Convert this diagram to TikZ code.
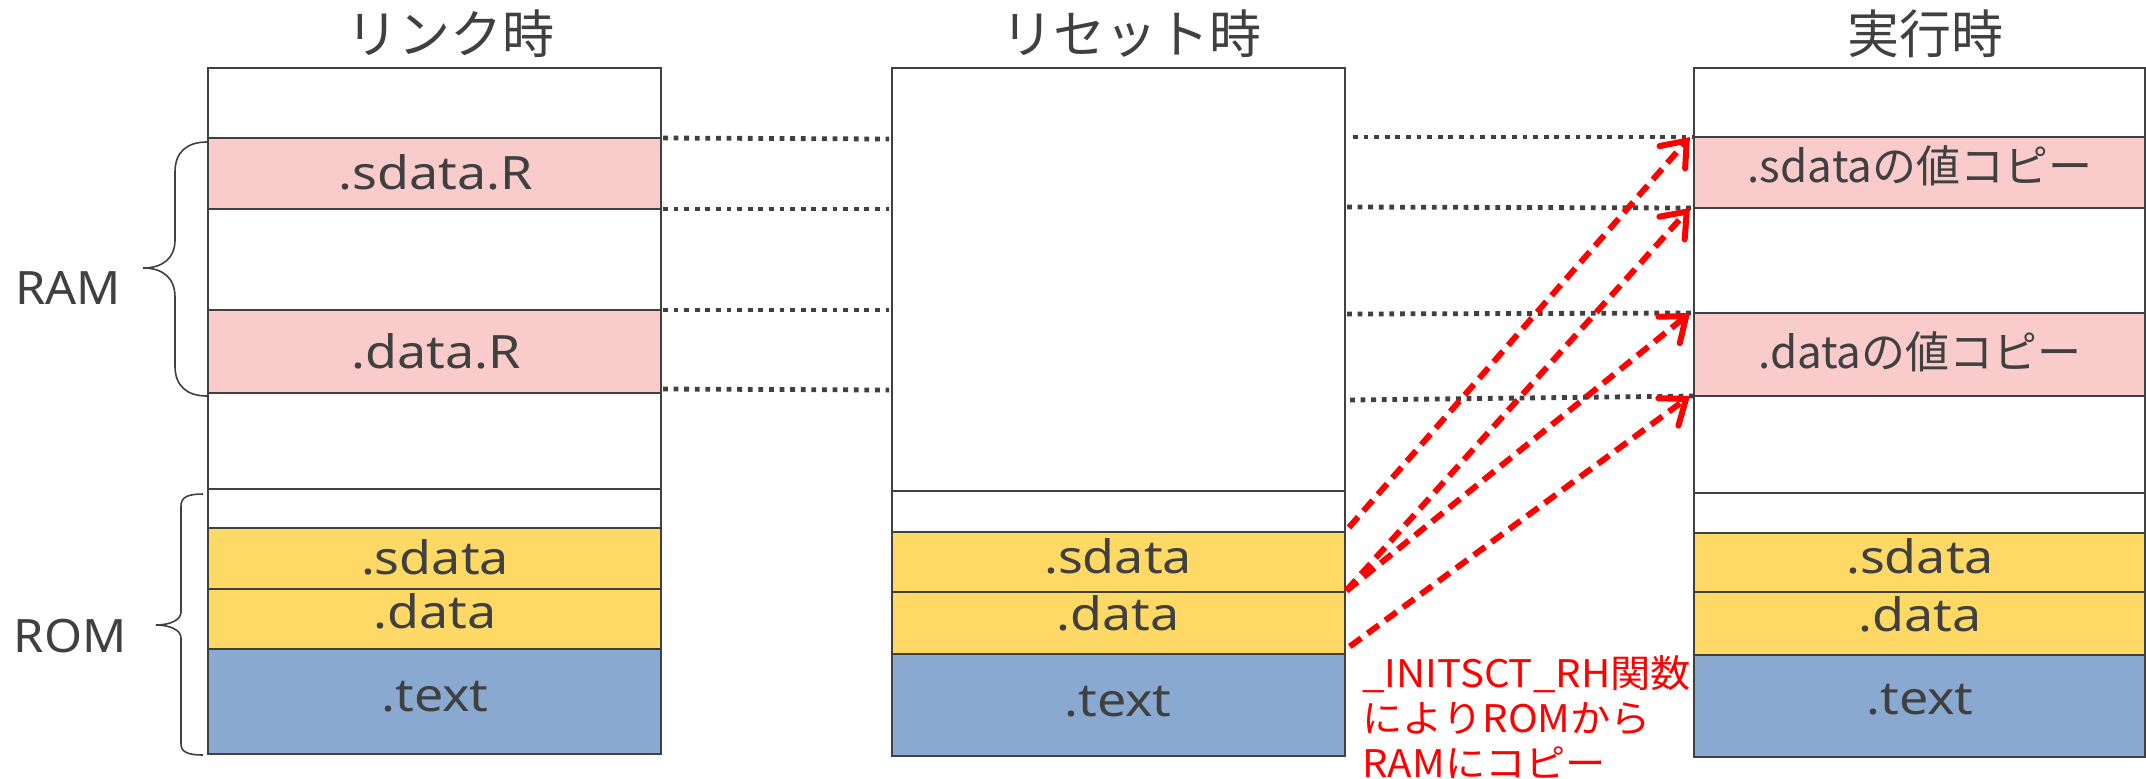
\documentclass[tikz,border=0pt]{standalone}
\usepackage{fontspec}
\setmainfont{Noto Sans CJK JP}
\newfontfamily\latfont[FakeStretch=1.13]{Noto Sans}
\newfontfamily\sidefont[FakeStretch=1.06]{Noto Sans}
\newfontfamily\redfont[FakeStretch=1.06]{Noto Sans CJK JP}
\usetikzlibrary{arrows.meta}
\definecolor{dk}{HTML}{404040}
\definecolor{pk}{HTML}{F9CBCB}
\definecolor{yl}{HTML}{FFD966}
\definecolor{bl}{HTML}{8AA9D0}
\newcommand\memseg[6]{\node[segbox,fill=#6,anchor=north west,minimum width={(#4-#2)*0.5pt},minimum height={(#5-#3)*0.5pt}] (#1) at (#2,#3) {};}
\tikzset{
  segbox/.style={draw=dk,line width=1.1pt,inner sep=0pt,outer sep=0pt},
  lbl/.style={text=dk,inner sep=0pt,font=\latfont\fontsize{23}{27}\selectfont},
  lblj/.style={text=dk,inner sep=0pt,font=\fontsize{22}{26}\selectfont},
  ttl/.style={text=dk,inner sep=0pt,font=\fontsize{26}{31}\selectfont},
  side/.style={text=dk,inner sep=0pt,font=\sidefont\fontsize{23}{28}\selectfont},
  redtxt/.style={text=red,inner sep=0pt,font=\redfont\fontsize{19}{23}\selectfont},
  dotline/.style={draw=dk,line width=2.4pt,dash pattern=on 2.4pt off 2.9pt},
  cpy/.style={draw=red,line width=3pt,dash pattern=on 7pt off 4pt,-{Straight Barb[length=11pt,width=17pt,line cap=round]}},
  brc/.style={draw=dk,line width=0.8pt}
}
\begin{document}
\begin{tikzpicture}[x=0.5pt,y=-0.5pt]
\useasboundingbox[fill=white] (0,0) rectangle (2146,778);
% titles
\node[ttl] (t1) at (450,34) {リンク時};
\node[ttl] (t2) at (1131,34) {リセット時};
\node[ttl] (t3) at (1925,34) {実行時};
% left column
\memseg{lA}{208}{68}{661}{138}{white}
\memseg{lsdR}{208}{138}{661}{209}{pk}
\memseg{lB}{208}{209}{661}{310}{white}
\memseg{ldR}{208}{310}{661}{393}{pk}
\memseg{lC}{208}{393}{661}{489}{white}
\memseg{lD}{208}{489}{661}{528}{white}
\memseg{lsd}{208}{528}{661}{589}{yl}
\memseg{ld}{208}{589}{661}{649}{yl}
\memseg{lt}{208}{649}{661}{754}{bl}
% middle column
\memseg{mA}{892}{68}{1345}{491}{white}
\memseg{mD}{892}{491}{1345}{532}{white}
\memseg{msd}{892}{532}{1345}{592}{yl}
\memseg{md}{892}{592}{1345}{654}{yl}
\memseg{mt}{892}{654}{1345}{756}{bl}
% right column
\memseg{rA}{1694}{68}{2145}{137}{white}
\memseg{rsdc}{1694}{137}{2145}{208}{pk}
\memseg{rB}{1694}{208}{2145}{313}{white}
\memseg{rdc}{1694}{313}{2145}{396}{pk}
\memseg{rC}{1694}{396}{2145}{493}{white}
\memseg{rD}{1694}{493}{2145}{533}{white}
\memseg{rsd}{1694}{533}{2145}{592}{yl}
\memseg{rd}{1694}{592}{2145}{655}{yl}
\memseg{rt}{1694}{655}{2145}{757}{bl}
% labels
\node[lbl] (L1) at (436,172) {.sdata.R};
\node[lbl] (L2) at (436,351) {.data.R};
\node[lbl] (L3) at (435,557) {.sdata};
\node[lbl] (L4) at (435,611) {.data};
\node[lbl] (L5) at (435,697) {.text};
\node[lbl] (M3) at (1118,556) {.sdata};
\node[lbl] (M4) at (1118,613) {.data};
\node[lbl] (M5) at (1118,702) {.text};
\node[lblj] (R1) at (1920,166) {.sdataの値コピー};
\node[lblj] (R2) at (1920,352) {.dataの値コピー};
\node[lbl] (R3) at (1920,556) {.sdata};
\node[lbl] (R4) at (1920,614) {.data};
\node[lbl] (R5) at (1920,700) {.text};
% side labels and braces
\node[side] (ram) at (68,288) {RAM};
\node[side] (rom) at (70,636) {ROM};
\draw[brc] (207,142) .. controls (187,142) and (175,152) .. (175,172) -- (175,240)
  .. controls (175,258) and (163,268) .. (143,268)
  .. controls (163,268) and (175,278) .. (175,297) -- (175,366)
  .. controls (175,386) and (187,396) .. (207,396);
\draw[brc] (203,494) .. controls (188,494) and (181,497) .. (181,506) -- (181,612)
  .. controls (181,620) and (170,625) .. (156,625)
  .. controls (170,625) and (181,630) .. (181,638) -- (181,744)
  .. controls (181,752) and (188,755) .. (203,755);
% dotted guide lines (link -> reset)
\coordinate (ml1) at (889,139);
\coordinate (ml2) at (889,209);
\coordinate (ml3) at (889,310);
\coordinate (ml4) at (889,390);
\draw[dotline] ([xshift=1pt]lsdR.north east) -- (ml1);
\draw[dotline] ([xshift=1pt]lsdR.south east) -- (ml2);
\draw[dotline] ([xshift=1pt]ldR.north east) -- (ml3);
\draw[dotline] ([xshift=1pt,yshift=2pt]ldR.south east) -- (ml4);
% dotted guide lines (reset -> run)
\coordinate (mr1) at (1353,137);
\coordinate (mr2) at (1347,207);
\coordinate (mr3) at (1347,314);
\coordinate (mr4) at (1350,400);
\draw[dotline] (mr1) -- (rsdc.north west);
\draw[dotline] (mr2) -- (rsdc.south west);
\draw[dotline] (mr3) -- (rdc.north west);
\draw[dotline] (mr4) -- (rdc.south west);
% copy arrows
\draw[cpy,shorten <=3pt] (msd.north east) -- ([xshift=-2pt]rsdc.north west);
\draw[cpy,shorten <=1pt] (msd.south east) -- ([xshift=-2pt]rsdc.south west);
\draw[cpy,shorten <=1pt] (msd.south east) -- ([xshift=-2pt]rdc.north west);
\draw[cpy,shorten <=3pt] ([yshift=2pt]md.south east) -- ([xshift=-2pt]rdc.south west);
% note
\node[redtxt,anchor=base west] (n1) at (1362,687) {\_INITSCT\_RH関数};
\node[redtxt,anchor=base west] (n2) at (1362,732) {によりROMから};
\node[redtxt,anchor=base west] (n3) at (1362,777) {RAMにコピー};
\end{tikzpicture}
\end{document}
